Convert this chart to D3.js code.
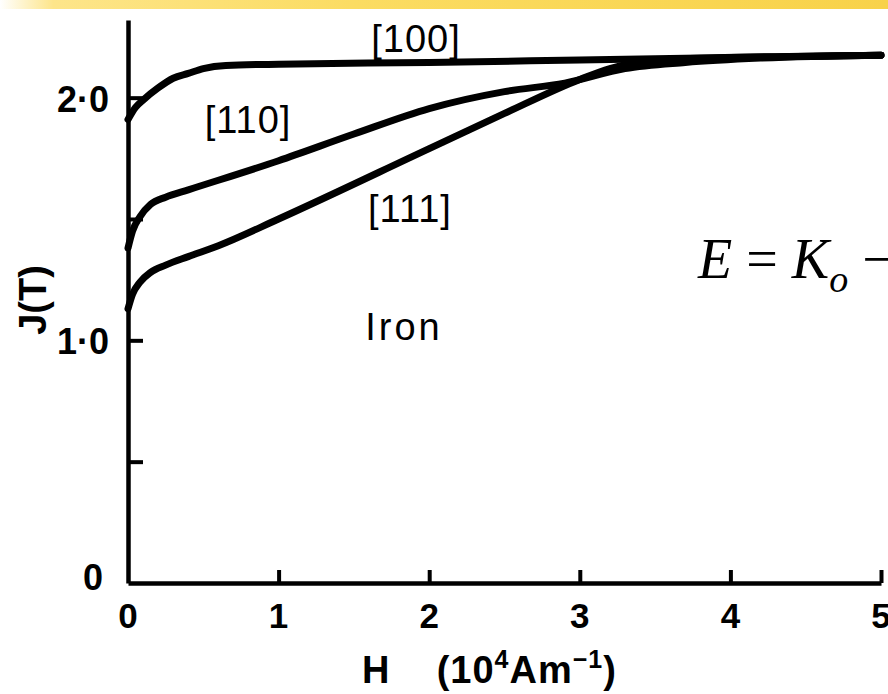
<!DOCTYPE html>
<html>
<head>
<meta charset="utf-8">
<script src="https://cdn.jsdelivr.net/npm/d3@7"></script>
<style>
  body { margin: 0; background: #fff; }
  svg { display: block; }
  .num { font-family: "Liberation Sans Narrow", "Liberation Sans", Arial, sans-serif; font-weight: bold; fill: #000; }
</style>
</head>
<body>
<div id="chart"></div>
<script>
// magnetisation curves of iron single crystal
const fieldH = [0, 0.05, 0.1, 0.2, 0.3, 0.4, 0.5, 0.65, 1, 2, 3, 4, 5];
const j100 = [1.91, 1.96, 1.99, 2.04, 2.08, 2.1, 2.12, 2.133, 2.138, 2.145, 2.155, 2.165, 2.175];

const fieldH110 = [0, 0.03, 0.08, 0.15, 0.25, 0.4, 1, 1.5, 2, 2.5, 2.9, 3.3, 3.7, 4.2, 5];
const j110 = [1.38, 1.45, 1.51, 1.56, 1.59, 1.62, 1.74, 1.85, 1.955, 2.025, 2.06, 2.12, 2.145, 2.163, 2.175];

const fieldH111 = [0, 0.03, 0.08, 0.15, 0.25, 0.4, 0.6, 1, 2, 2.5, 3, 3.2, 3.4, 3.6, 5];
const j111 = [1.13, 1.19, 1.24, 1.28, 1.31, 1.345, 1.39, 1.5, 1.79, 1.935, 2.075, 2.12, 2.148, 2.158, 2.175];

const xTicks = [0, 1, 2, 3, 4, 5];
const yTicks = [0.5, 1, 1.5, 2];
const yLabels = [0, 1, 2];

const series = [
  { name: "[100]", h: fieldH, j: j100 },
  { name: "[110]", h: fieldH110, j: j110 },
  { name: "[111]", h: fieldH111, j: j111 },
];

const width = 888, height = 694;

const svg = d3.select("#chart")
  .append("svg")
  .attr("width", width)
  .attr("height", height);

// yellow strip along the top (slide decoration)
const grad = svg.append("defs").append("linearGradient").attr("id", "band");
grad.append("stop").attr("offset", "0%").attr("stop-color", "#fff");
grad.append("stop").attr("offset", "6%").attr("stop-color", "#fde58a");
grad.append("stop").attr("offset", "40%").attr("stop-color", "#fbdc62");
grad.append("stop").attr("offset", "100%").attr("stop-color", "#f8d24a");
svg.append("rect")
  .attr("x", 0).attr("y", 0)
  .attr("width", width).attr("height", 9)
  .attr("fill", "url(#band)");

const x = d3.scaleLinear().domain([0, 5]).range([128, 881]);
const y = d3.scaleLinear().domain([0, 2.32]).range([583, 20]);

// curves
const line = d3.line()
  .x((d) => x(d[0]))
  .y((d) => y(d[1]))
  .curve(d3.curveMonotoneX);

svg.append("g")
  .selectAll("path")
  .data(series)
  .join("path")
  .attr("d", (s) => line(s.h.map((h, i) => [h, s.j[i]])))
  .attr("fill", "none")
  .attr("stroke", "#000")
  .attr("stroke-width", 7)
  .attr("stroke-linecap", "round")
  .attr("stroke-linejoin", "round");

// y axis, ticks pointing inward
const yAxis = svg.append("g")
  .attr("transform", `translate(${x(0)},0)`)
  .call(d3.axisRight(y).tickValues(yTicks).tickSize(15).tickSizeOuter(0).tickFormat(""));

// x axis, ticks pointing up
const xAxis = svg.append("g")
  .attr("transform", `translate(0,${y(0)})`)
  .call(d3.axisTop(x).tickValues(xTicks.slice(1)).tickSize(13).tickSizeOuter(0).tickFormat(""));

[xAxis, yAxis].forEach((a) => {
  a.select(".domain").attr("stroke", "#000").attr("stroke-width", 4.5);
  a.selectAll(".tick line").attr("stroke", "#000").attr("stroke-width", 4);
});

// x tick labels
svg.append("g")
  .selectAll("text")
  .data(xTicks)
  .join("text")
  .attr("class", "num")
  .attr("x", (d) => x(d))
  .attr("y", 628)
  .attr("text-anchor", "middle")
  .style("font-size", "35px")
  .text((d) => d);

// y tick labels
svg.append("g")
  .selectAll("text")
  .data(yLabels)
  .join("text")
  .attr("class", "num")
  .attr("x", (d) => (d === 0 ? 103 : 109))
  .attr("y", (d) => (d === 0 ? y(d) + 7 : y(d) + 14))
  .attr("text-anchor", "end")
  .style("font-size", "36px")
  .text((d) => (d === 0 ? "0" : d3.format(".1f")(d).replace(".", "·")));

// axis titles
svg.append("text")
  .attr("class", "num")
  .attr("x", 362)
  .attr("y", 683)
  .style("font-size", "38px")
  .style("letter-spacing", "1px")
  .html('H&#160;&#160;&#160;&#160;(10<tspan dy="-15" font-size="25">4</tspan><tspan dy="15">Am</tspan><tspan dy="-15" font-size="25">−1</tspan><tspan dy="15">)</tspan>');

svg.append("text")
  .attr("class", "num")
  .attr("transform", "translate(46,300) rotate(-90)")
  .attr("text-anchor", "middle")
  .style("font-size", "38px")
  .text("J(T)");

// curve labels
const labels = [
  { t: "[100]", x: 416, y: 52 },
  { t: "[110]", x: 248, y: 133 },
  { t: "[111]", x: 410, y: 222 },
];
svg.append("g")
  .selectAll("text")
  .data(labels)
  .join("text")
  .attr("x", (d) => d.x)
  .attr("y", (d) => d.y)
  .attr("text-anchor", "middle")
  .style("font-family", '"Liberation Sans Narrow", "Liberation Sans", Arial, sans-serif')
  .style("font-size", "38px")
  .style("letter-spacing", "1px")
  .text((d) => d.t);

svg.append("text")
  .attr("x", 404)
  .attr("y", 340)
  .attr("text-anchor", "middle")
  .style("font-family", '"Liberation Sans", Arial, sans-serif')
  .style("font-size", "38px")
  .style("letter-spacing", "3px")
  .text("Iron");

// formula fragment on the right edge
svg.append("text")
  .attr("x", 698)
  .attr("y", 278)
  .style("font-family", '"Liberation Serif", "Times New Roman", serif')
  .style("font-style", "italic")
  .style("font-size", "56px")
  .html('E<tspan font-style="normal"> = </tspan>K<tspan dy="14" font-size="38">o</tspan><tspan dy="-14" font-style="normal"> −</tspan>');
</script>
</body>
</html>
